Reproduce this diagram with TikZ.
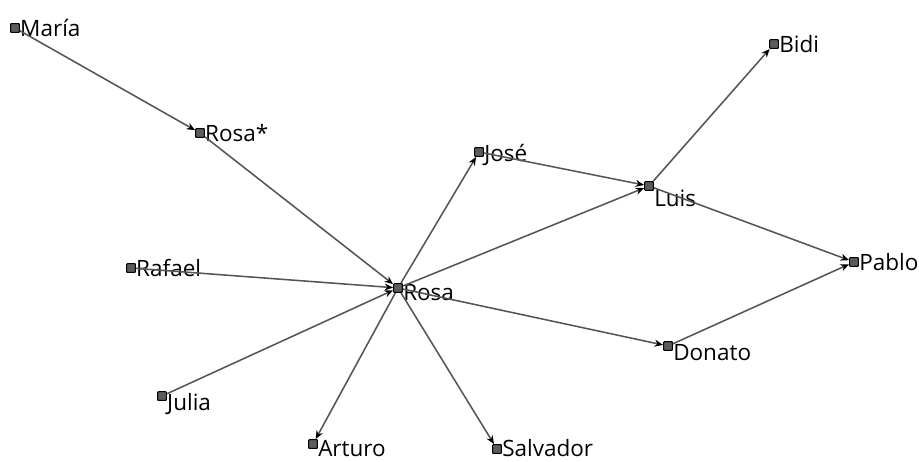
\documentclass[tikz,border=0pt]{standalone}
\usepackage{fontspec}
\setmainfont{Open Sans}
\usetikzlibrary{arrows.meta, positioning}
\definecolor{edgeGray}{HTML}{555555}
\definecolor{dotGray}{HTML}{5C5C5C}
\tikzset{
    % Network
    netPic/.style={x=0.025cm, y=-0.025cm},
    person/.style={rectangle, rounded corners=0.6pt, draw=black, fill=dotGray, line width=0.8pt,
        minimum size=0.22cm, inner sep=0pt},
    nameTag/.style={font=\fontsize{16}{18}\selectfont, inner sep=0pt, text=black},
    tie/.style={-{Stealth[length=6pt, width=5pt, color=black]}, draw=edgeGray, line width=1.1pt}
}
\begin{document}
\begin{tikzpicture}[netPic]
    \useasboundingbox (0,0) rectangle (919,461);
    % People
    \node[person, label={[nameTag]right:María}] (maria) at (15,28) {};
    \node[person, label={[nameTag]right:Rosa*}] (rosaS) at (200,133) {};
    \node[person, label={[nameTag]right:Rafael}] (rafael) at (131,268) {};
    \node[person, label={[nameTag, yshift=-6pt]right:Julia}] (julia) at (162,396) {};
    \node[person, label={[nameTag, yshift=-3pt]right:Arturo}] (arturo) at (313,444) {};
    \node[person, label={[nameTag, yshift=1pt]right:Salvador}] (salvador) at (497,449) {};
    \node[person, label={[nameTag, yshift=-3pt]right:Rosa}] (rosa) at (398,288) {};
    \node[person, label={[nameTag, yshift=-2pt]right:José}] (jose) at (479,152) {};
    \node[person, label={[nameTag, yshift=-9pt]right:Luis}] (luis) at (649,186) {};
    \node[person, label={[nameTag]right:Bidi}] (bidi) at (774,44) {};
    \node[person, label={[nameTag]right:Pablo}] (pablo) at (854,262) {};
    \node[person, label={[nameTag, yshift=-5pt]right:Donato}] (donato) at (668,346) {};

    % Ties
    \draw[tie] (maria) -- (rosaS);
    \foreach \src in {rosaS, rafael, julia} \draw[tie] (\src) -- (rosa);
    \foreach \dst in {arturo, salvador, jose, luis, donato} \draw[tie] (rosa) -- (\dst);
    \draw[tie] (jose) -- (luis);
    \draw[tie] (luis) -- (bidi);
    \draw[tie] (luis) -- (pablo);
    \draw[tie] (donato) -- (pablo);
\end{tikzpicture}
\end{document}
